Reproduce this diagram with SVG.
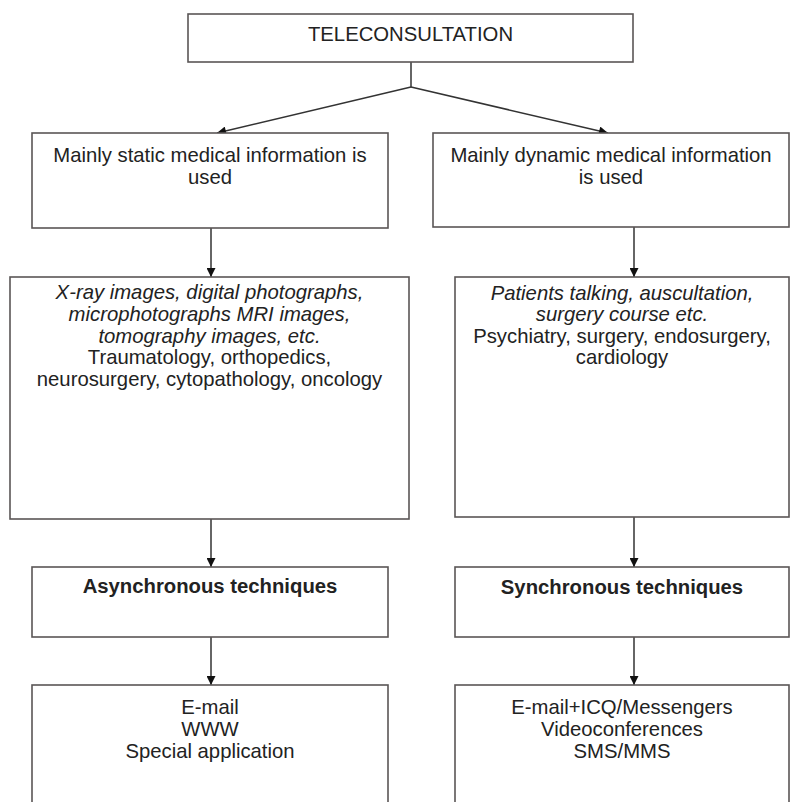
<svg xmlns="http://www.w3.org/2000/svg" width="798" height="802" viewBox="0 0 798 802">
<defs>
<marker id="ah" viewBox="0 0 10 10" refX="10" refY="5" markerWidth="10" markerHeight="9" markerUnits="userSpaceOnUse" orient="auto">
<path d="M0,0 L10,5 L0,10 z" fill="#111"/>
</marker>
<style>
.box{fill:#fff;stroke:#5a5656;stroke-width:1.6}
.t{font-family:"Liberation Sans",Arial,sans-serif;font-size:20.3px;fill:#222;text-anchor:middle}
.i{font-style:italic}
.b{font-weight:bold}
.c{fill:none;stroke:#333;stroke-width:1.5}
</style>
</defs>
<rect width="798" height="802" fill="#fff"/>
<g id="connectors">
<path class="c" d="M411,62 L411,87"/>
<path class="c" d="M411,87 L217,133" marker-end="url(#ah)"/>
<path class="c" d="M411,87 L608,133" marker-end="url(#ah)"/>
<path class="c" d="M211,228 L211,277" marker-end="url(#ah)"/>
<path class="c" d="M634,227 L634,277" marker-end="url(#ah)"/>
<path class="c" d="M211,519 L211,567" marker-end="url(#ah)"/>
<path class="c" d="M634,517 L634,567" marker-end="url(#ah)"/>
<path class="c" d="M211,637 L211,685" marker-end="url(#ah)"/>
<path class="c" d="M634,637 L634,685" marker-end="url(#ah)"/>
</g>
<g id="teleconsultation">
<rect class="box" x="188" y="14" width="445" height="48"/>
<text class="t" x="410.5" y="41">TELECONSULTATION</text>
</g>
<g id="static">
<rect class="box" x="32" y="133" width="356" height="95"/>
<text class="t" x="210" y="162">Mainly static medical information is</text>
<text class="t" x="210" y="184">used</text>
</g>
<g id="dynamic">
<rect class="box" x="433" y="133" width="356" height="94"/>
<text class="t" x="611" y="162">Mainly dynamic medical information</text>
<text class="t" x="611" y="184">is used</text>
</g>
<g id="static-examples">
<rect class="box" x="10" y="277" width="399" height="242"/>
<text class="t i" x="209.5" y="299">X-ray images, digital photographs,</text>
<text class="t i" x="209.5" y="321">microphotographs MRI images,</text>
<text class="t i" x="209.5" y="343">tomography images, etc.</text>
<text class="t" x="209.5" y="364">Traumatology, orthopedics,</text>
<text class="t" x="209.5" y="386">neurosurgery, cytopathology, oncology</text>
</g>
<g id="dynamic-examples">
<rect class="box" x="455" y="277" width="334" height="240"/>
<text class="t i" x="622" y="300">Patients talking, auscultation,</text>
<text class="t i" x="622" y="321">surgery course etc.</text>
<text class="t" x="622" y="343">Psychiatry, surgery, endosurgery,</text>
<text class="t" x="622" y="364">cardiology</text>
</g>
<g id="async">
<rect class="box" x="32" y="567" width="356" height="70"/>
<text class="t b" x="210" y="593">Asynchronous techniques</text>
</g>
<g id="sync">
<rect class="box" x="455" y="567" width="334" height="70"/>
<text class="t b" x="622" y="594">Synchronous techniques</text>
</g>
<g id="async-tools">
<rect class="box" x="32" y="685" width="356" height="140"/>
<text class="t" x="210" y="714">E-mail</text>
<text class="t" x="210" y="736">WWW</text>
<text class="t" x="210" y="758">Special application</text>
</g>
<g id="sync-tools">
<rect class="box" x="455" y="685" width="334" height="140"/>
<text class="t" x="622" y="714">E-mail+ICQ/Messengers</text>
<text class="t" x="622" y="736">Videoconferences</text>
<text class="t" x="622" y="758">SMS/MMS</text>
</g>
</svg>
